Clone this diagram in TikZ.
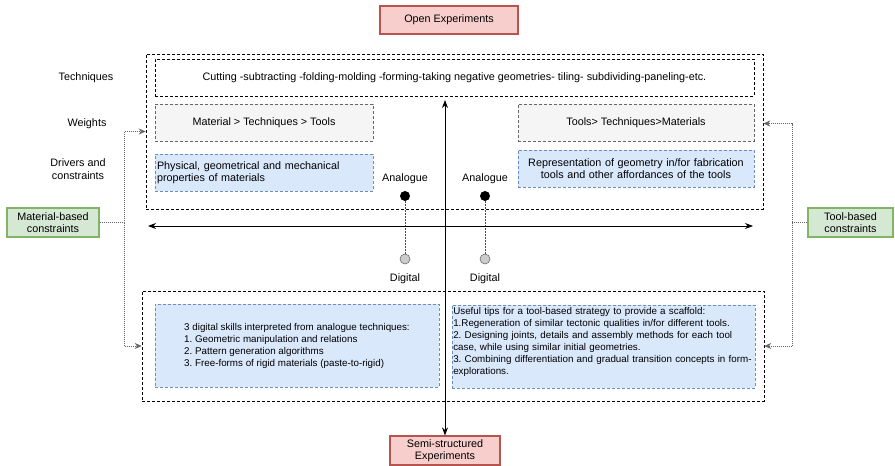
\documentclass[tikz,border=0pt]{standalone}
\usepackage{fontspec}
\setmainfont{Liberation Sans}
\usetikzlibrary{positioning,arrows.meta}
\definecolor{redfill}{HTML}{F8CECC}
\definecolor{redline}{HTML}{B85450}
\definecolor{greenfill}{HTML}{D5E8D4}
\definecolor{greenline}{HTML}{82B366}
\definecolor{bluefill}{HTML}{DAE8FC}
\definecolor{blueline}{HTML}{6C8EBF}
\definecolor{grayfill}{HTML}{F5F5F5}
\definecolor{grayline}{HTML}{666666}
\frenchspacing
\tikzset{every picture/.style={line width=0.2mm}}
\tikzset{
  expbox/.style={draw=redline, fill=redfill, line width=0.4mm, inner sep=0pt, align=center},
  constbox/.style={draw=greenline, fill=greenfill, line width=0.4mm, inner sep=0pt, align=center},
  groupbox/.style={draw, dash pattern=on 3pt off 2pt, inner sep=0pt},
  weightbox/.style={draw=grayline, fill=grayfill, dash pattern=on 3pt off 2pt, inner sep=0pt, align=center},
  drivebox/.style={draw=blueline, fill=bluefill, dash pattern=on 3pt off 2pt, inner sep=1pt},
  rowlabel/.style={align=center},
  analogdot/.style={circle, fill=black, inner sep=0pt, minimum size=10pt},
  digitdot/.style={circle, draw=grayline, fill=black!20, inner sep=0pt, minimum size=10pt},
  linkline/.style={draw=black!70, dash pattern=on 1.5pt off 1.5pt},
  conn/.style={draw=black!60, dash pattern=on 1pt off 1pt, -{Stealth[length=7pt,width=6pt]}},
  axis/.style={draw, line width=0.3mm, {Stealth[length=8pt,width=6pt]}-{Stealth[length=8pt,width=6pt]}},
  smalltext/.style={font=\fontsize{9.8}{12}\selectfont}
}

\begin{document}
\begin{tikzpicture}[x=1pt, y=-1pt, font=\fontsize{10.8}{12.5}\selectfont]
  \useasboundingbox (0,0) rectangle (895,466);

  % top and bottom experiments
  \node[expbox, minimum width=138pt, minimum height=28pt] (open) at (449,20) {Open Experiments};
  \node[expbox, minimum width=110pt, minimum height=29pt] (semi) at (445,450.5) {Semi-structured\\Experiments};

  % analogue group
  \node[groupbox, minimum width=617pt, minimum height=155pt] (outertop) at (454.5,131.5) {};
  \node[groupbox, minimum width=599pt, minimum height=37pt] (tech) at (454.5,77.5)
    {Cutting -subtracting -folding-molding -forming-taking negative geometries- tiling- subdividing-paneling-etc.};
  \node[weightbox, minimum width=218pt, minimum height=37pt] (wmat) at (264,122.5) {Material > Techniques > Tools};
  \node[weightbox, minimum width=236pt, minimum height=37pt] (wtool) at (636,122.5) {Tools> Techniques>Materials};
  \node[drivebox, minimum width=218pt, minimum height=37pt, text width=214pt, align=left] (dmat) at (264,172.5)
    {Physical, geometrical and mechanical\\properties of materials};
  \node[drivebox, minimum width=236pt, minimum height=37pt, text width=232pt, align=center] (dtool) at (636,168.5)
    {Representation of geometry in/for fabrication\\tools and other affordances of the tools};

  % row labels
  \node[rowlabel] (ltech) at (86,78) {Techniques};
  \node[rowlabel] (lweight) at (87,124) {Weights};
  \node[rowlabel] (ldrive) at (78,169) {Drivers and\\constraints};

  % analogue / digital
  \node[analogdot] (a1) at (405,196) {};
  \node[analogdot] (a2) at (485,196) {};
  \node[digitdot] (d1) at (405,259) {};
  \node[digitdot] (d2) at (485,259) {};
  \node[above=3pt of a1] (a1lab) {Analogue};
  \node[above=3pt of a2] (a2lab) {Analogue};
  \node[below=6pt of d1] (d1lab) {Digital};
  \node[below=6pt of d2] (d2lab) {Digital};
  \draw[linkline] (a1) -- (d1);
  \draw[linkline] (a2) -- (d2);

  % digital group
  \node[groupbox, minimum width=622pt, minimum height=110pt] (outerbot) at (453,346) {};
  \node[drivebox, smalltext, minimum width=284pt, minimum height=83pt, align=left] (skills) at (297,345.5)
    {3 digital skills interpreted from analogue techniques:\\
     1. Geometric manipulation and relations\\
     2. Pattern generation algorithms\\
     3. Free-forms of rigid materials (paste-to-rigid)};
  \node[drivebox, smalltext, text width=301pt, inner xsep=1pt, inner ysep=2pt, align=left, anchor=north west] (tips) at (452,305)
    {Useful tips for a tool-based strategy to provide a scaffold:\\
     1.Regeneration of similar tectonic qualities in/for different tools.\\
     2. Designing joints, details and assembly methods for each tool\\
     case, while using similar initial geometries.\\
     3. Combining differentiation and gradual transition concepts in form-\\
     explorations.\\ \mbox{}};

  % constraints
  \node[constbox, minimum width=92pt, minimum height=29pt] (matc) at (53,222.5) {Material-based\\constraints};
  \node[constbox, minimum width=85pt, minimum height=29pt] (toolc) at (850.5,222.5) {Tool-based\\constraints};

  % axes
  \coordinate (hleft) at (148,226);
  \coordinate (hright) at (753,226);
  \coordinate (vtop) at (445,100);
  \draw[axis] (hleft) -- (hright);
  \draw[axis] (vtop) -- (semi.north);

  % constraint connectors
  \coordinate (mbend) at (124,222.5);
  \coordinate (tbend) at (792,222.5);
  \draw[conn] (matc.east) -- (mbend) |- (outertop.west);
  \draw[conn] (mbend) |- (outerbot.west);
  \draw[conn] (toolc.west) -- (tbend) |- ([yshift=8pt]outertop.east);
  \draw[conn] (tbend) |- (outerbot.east);
\end{tikzpicture}
\end{document}
